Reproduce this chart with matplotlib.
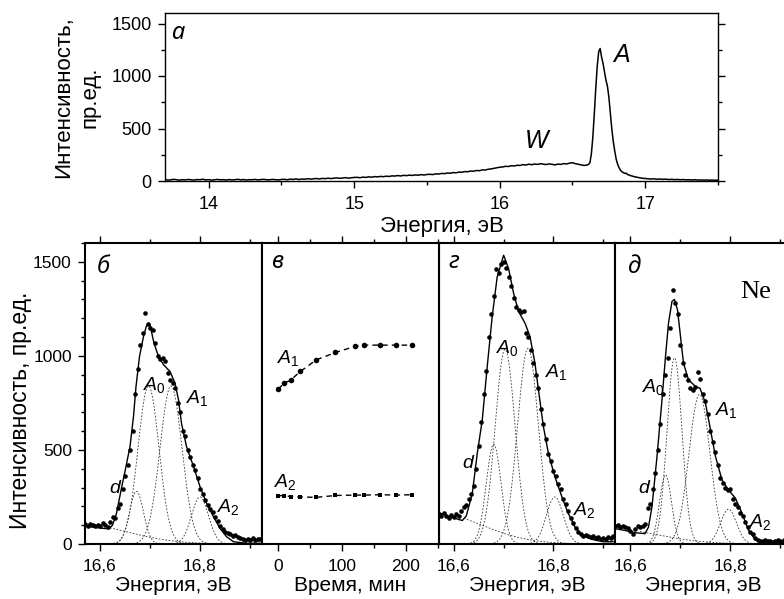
import numpy as np
import matplotlib
matplotlib.use("Agg")
import matplotlib.pyplot as plt
from matplotlib.ticker import MultipleLocator, FuncFormatter

plt.rcParams['font.family'] = ['Liberation Sans', 'DejaVu Sans']
plt.rcParams['mathtext.fontset'] = 'custom'
plt.rcParams['mathtext.it'] = 'Liberation Sans:italic'
plt.rcParams['mathtext.rm'] = 'Liberation Sans'

# --- (а) full spectrum -------------------------------------------------
wide_e = list(np.linspace(13.70, 16.58, 145))
wide_i = [14, 9, 11, 16, 12, 8, 13, 10, 15, 11, 9, 14, 12, 17, 10, 13, 8, 12, 15, 11,
          13, 9, 14, 10, 12, 16, 11, 14, 9, 13, 12, 15, 10, 14, 16, 11, 12, 15, 13, 10, 15,
          16, 12, 18, 15, 20, 14, 19, 17, 22, 18, 21, 24, 19, 25, 22, 27, 23, 26, 30, 25,
          28, 32, 27, 31, 34,
          35, 31, 37, 34, 40, 36, 42, 39, 44, 41, 46, 43, 49, 47, 52, 48, 54, 51, 56, 53,
          58, 55, 61, 57, 62,
          64, 61, 68, 66, 72, 70, 76, 74, 80, 78, 85, 83, 90, 88, 95, 93, 100, 98, 106, 104,
          112, 115, 121, 126, 131,
          134, 140, 138, 145, 143, 150, 148, 156, 152, 160, 155, 162, 158, 165, 160, 157,
          163, 159, 154, 161, 158, 166, 162, 170, 174, 165, 160, 153, 148]
peak_e = list(np.linspace(16.60, 17.00, 41))
peak_i = [152, 158, 175, 260, 420, 640, 880, 1090, 1230, 1262, 1180, 1120, 1040, 960,
          905, 800, 650, 500, 380, 290, 210, 160, 128, 102, 88, 80, 72, 74, 60, 57,
          50, 48, 42, 41, 36, 35, 30, 29, 26, 25, 23]
tail_e = list(np.linspace(17.02, 17.50, 25))
tail_i = [22, 19, 21, 17, 19, 16, 18, 14, 16, 13, 15, 12, 14, 11, 12, 10, 12, 9, 10, 8,
          10, 7, 9, 7, 8]

# --- (б), (г), (д) measured points on a common energy grid --------------
grid_e = np.linspace(16.570, 16.920, 71)
pts_b = [105, 98, 108, 100, 95, 103, 97, 110, 100, 92, 118, 145, 140, 190, 215, 290,
         362, 420, 500, 600, 800, 930, 1060, 1120, 1227, 1170, 1150, 1140, 1070, 1000,
         985, 990, 975, 910, 870, 858, 830, 750, 700, 600, 575, 500, 460, 420, 395, 350,
         290, 265, 235, 205, 185, 170, 145, 120, 95, 80, 65, 58, 52, 45, 50, 38, 30, 28,
         22, 25, 20, 30, 22, 28, 25]
pts_g = [160, 148, 165, 150, 140, 155, 145, 160, 150, 175, 195, 205, 240, 265, 310, 400,
         520, 650, 800, 920, 1100, 1220, 1320, 1460, 1440, 1490, 1500, 1465, 1420, 1370,
         1310, 1260, 1245, 1235, 1240, 1120, 1100, 1030, 960, 900, 830, 720, 640, 560,
         480, 440, 390, 360, 320, 290, 240, 210, 175, 140, 110, 85, 62, 55, 45, 50, 40,
         35, 42, 30, 35, 28, 32, 25, 38, 30, 45]
pts_d = [95, 100, 88, 98, 92, 85, 70, 55, 80, 95, 90, 98, 105, 190, 210, 290, 380, 500,
         640, 800, 900, 990, 1150, 1348, 1280, 1220, 1060, 960, 900, 870, 830, 820, 835,
         915, 875, 800, 760, 690, 600, 540, 490, 420, 350, 325, 300, 285, 295, 240, 215,
         195, 165, 150, 115, 90, 65, 55, 32, 22, 18, 15, 20, 14, 18, 12, 16, 20, 14, 18,
         25, 15, 20]

# fitted envelopes
fit_b_e = [16.570, 16.590, 16.610, 16.618, 16.625, 16.633, 16.643, 16.650, 16.660, 16.667,
           16.672, 16.679, 16.687, 16.693, 16.700, 16.708, 16.717, 16.727, 16.740, 16.750,
           16.757, 16.763, 16.773, 16.787, 16.800, 16.813, 16.827, 16.840, 16.853, 16.867,
           16.893, 16.920]
fit_b_i = [95, 88, 82, 82, 100, 163, 298, 386, 518, 678, 837, 997, 1103, 1160, 1165,
           1067, 997, 953, 917, 855, 766, 642, 518, 412, 305, 217, 145, 83, 39, 12, 4, 4]
fit_g_e = [16.570, 16.590, 16.610, 16.617, 16.625, 16.637, 16.647, 16.657, 16.667, 16.677,
           16.687, 16.700, 16.710, 16.720, 16.730, 16.743, 16.753, 16.763, 16.770, 16.780,
           16.790, 16.803, 16.817, 16.830, 16.843, 16.857, 16.877, 16.900, 16.920]
fit_g_i = [165, 148, 130, 125, 150, 270, 482, 659, 943, 1209, 1419, 1535, 1463, 1333, 1236,
           1174, 1103, 961, 820, 624, 482, 358, 252, 163, 92, 48, 25, 12, 12]
fit_d_e = [16.570, 16.590, 16.610, 16.630, 16.637, 16.644, 16.654, 16.664, 16.671, 16.677,
           16.684, 16.689, 16.695, 16.701, 16.707, 16.717, 16.731, 16.740, 16.751, 16.761,
           16.771, 16.784, 16.797, 16.811, 16.824, 16.837, 16.851, 16.871, 16.920]
fit_d_i = [82, 72, 60, 55, 90, 199, 465, 766, 997, 1174, 1290, 1300, 1245, 1103, 961, 873,
           837, 828, 748, 606, 465, 340, 287, 243, 163, 74, 21, 4, 4]

# fit components: background, d, A0, A1, A2 -> (centre, height, sigma)
comp_b = [(16.55, 110, 0.10), (16.673, 280, 0.014), (16.697, 840, 0.021),
          (16.742, 840, 0.022), (16.800, 250, 0.017)]
comp_g = [(16.55, 175, 0.10), (16.680, 530, 0.015), (16.703, 1035, 0.020),
          (16.749, 1040, 0.021), (16.803, 250, 0.017)]
comp_d = [(16.55, 85, 0.10), (16.671, 367, 0.012), (16.689, 990, 0.015),
          (16.739, 795, 0.021), (16.797, 185, 0.016)]

# --- (в) component intensities vs time ---------------------------------
time_min = [0, 10, 20, 35, 60, 90, 120, 135, 160, 185, 210]
a1_int = [823, 855, 872, 917, 979, 1018, 1050, 1057, 1057, 1057, 1057]
a2_int = [257, 257, 252, 250, 248, 258, 260, 260, 262, 260, 262]

W, H = 784, 599
fig = plt.figure(figsize=(W / 100, H / 100), dpi=100)


def box(l, t, r, b):
    return [l / W, (H - b) / H, (r - l) / W, (b - t) / H]


def comma(v, pos):
    return ('%.1f' % v).replace('.', ',')


def style(ax, lw, size):
    for s in ax.spines.values():
        s.set_linewidth(lw)
    ax.tick_params(which='both', direction='out', width=1, labelsize=size)
    ax.tick_params(axis='x', which='both', pad=6)
    ax.tick_params(axis='y', which='both', pad=4.5)
    ax.tick_params(which='major', length=5)
    ax.tick_params(which='minor', length=3)


# top panel
ax = fig.add_axes(box(165, 13, 718, 181))
ax.plot(wide_e + peak_e + tail_e, wide_i + peak_i + tail_i, color='black', lw=1.1)
ax.set_xlim(13.7, 17.5)
ax.set_ylim(0, 1600)
ax.xaxis.set_major_locator(MultipleLocator(1))
ax.xaxis.set_minor_locator(MultipleLocator(0.5))
ax.yaxis.set_major_locator(MultipleLocator(500))
ax.yaxis.set_minor_locator(MultipleLocator(250))
style(ax, 1, 13)
ax.tick_params(which='both', right=True)
ax.set_xlabel('Энергия, эВ', fontsize=16, labelpad=2)
ax.set_ylabel('Интенсивность,\nпр.ед.', fontsize=16, labelpad=8, linespacing=1.35)
ax.text(13.74, 1357, 'а', family='Noto Sans', style='italic', fontsize=17)
ax.text(16.77, 1130, '$A$', fontsize=18)
ax.text(16.17, 313, '$W$', fontsize=18)

# bottom spectra
panels = [
    ((85, 262), pts_b, fit_b_e, fit_b_i, comp_b, 'б',
     [('$A_{\\mathrm{0}}$', 16.686, 819), ('$A_{\\mathrm{1}}$', 16.772, 750),
      ('$d$', 16.618, 271), ('$A_{\\mathrm{2}}$', 16.834, 170)], (16.594, 1442)),
    ((439, 615), pts_g, fit_g_e, fit_g_i, comp_g, 'г',
     [('$A_{\\mathrm{0}}$', 16.684, 1016), ('$A_{\\mathrm{1}}$', 16.784, 888),
      ('$d$', 16.616, 404), ('$A_{\\mathrm{2}}$', 16.840, 154)], (16.59, 1468)),
    ((615, 792), pts_d, fit_d_e, fit_d_i, comp_d, 'д',
     [('$A_{\\mathrm{0}}$', 16.624, 809), ('$A_{\\mathrm{1}}$', 16.770, 686),
      ('$d$', 16.616, 271), ('$A_{\\mathrm{2}}$', 16.838, 90)], (16.594, 1442)),
]
comp_x = np.linspace(16.62, 16.87, 200)
axes = []
for (l, r), pts, fe, fi, comps, letter, labels, lpos in panels:
    ax = fig.add_axes(box(l, 243, r, 544))
    axes.append(ax)
    for c, h, s in comps:
        ax.plot(comp_x, h * np.exp(-0.5 * ((comp_x - c) / s) ** 2), color='#333333',
                lw=0.6, dashes=(2, 2))
    ax.plot(fe, fi, color='black', lw=1)
    ax.plot(grid_e, pts, 'o', color='black', ms=3.3, mew=0)
    ax.set_xlim(16.57, 16.924)
    ax.set_ylim(0, 1600)
    ax.xaxis.set_major_locator(MultipleLocator(0.2))
    ax.xaxis.set_minor_locator(MultipleLocator(0.1))
    ax.xaxis.set_major_formatter(FuncFormatter(comma))
    ax.yaxis.set_major_locator(MultipleLocator(500))
    ax.yaxis.set_minor_locator(MultipleLocator(100))
    style(ax, 1.5, 12.5)
    ax.tick_params(which='both', top=True)
    ax.set_xlabel('Энергия, эВ', fontsize=15, labelpad=1.5)
    for txt, x, y in labels:
        ax.text(x, y, txt, fontsize=14)
    ax.text(lpos[0], lpos[1], letter, family='Noto Sans', style='italic', fontsize=17)
    if letter != 'б':
        ax.tick_params(axis='y', which='both', left=False, labelleft=False)

axes[2].text(16.82, 1309, 'Ne', family='Liberation Serif', fontsize=19)
fig.text(21 / W, (H - 410) / H, 'Интенсивность, пр.ед.', rotation=90, fontsize=16.5,
         ha='center', va='center')

# time panel
ax = fig.add_axes(box(262, 243, 439, 544))
ax.plot(time_min, a1_int, color='black', lw=1, dashes=(4, 3), marker='o', ms=4, mew=0)
ax.plot(time_min, a2_int, color='black', lw=1, dashes=(4, 3), marker='s', ms=3.3, mew=0)
ax.set_xlim(-25, 252)
ax.set_ylim(0, 1600)
ax.xaxis.set_major_locator(MultipleLocator(100))
ax.xaxis.set_minor_locator(MultipleLocator(50))
style(ax, 1.5, 12.5)
ax.tick_params(which='both', top=True)
ax.tick_params(axis='y', which='both', left=False, labelleft=False)
ax.set_xlabel('Время, мин', fontsize=15, labelpad=1.5)
ax.text(-10, 1468, 'в', family='Noto Sans', style='italic', fontsize=17)
ax.text(-2, 963, '$A_{\\mathrm{1}}$', fontsize=14)
ax.text(-7, 303, '$A_{\\mathrm{2}}$', fontsize=14)

fig.savefig('out.png', dpi=100)
